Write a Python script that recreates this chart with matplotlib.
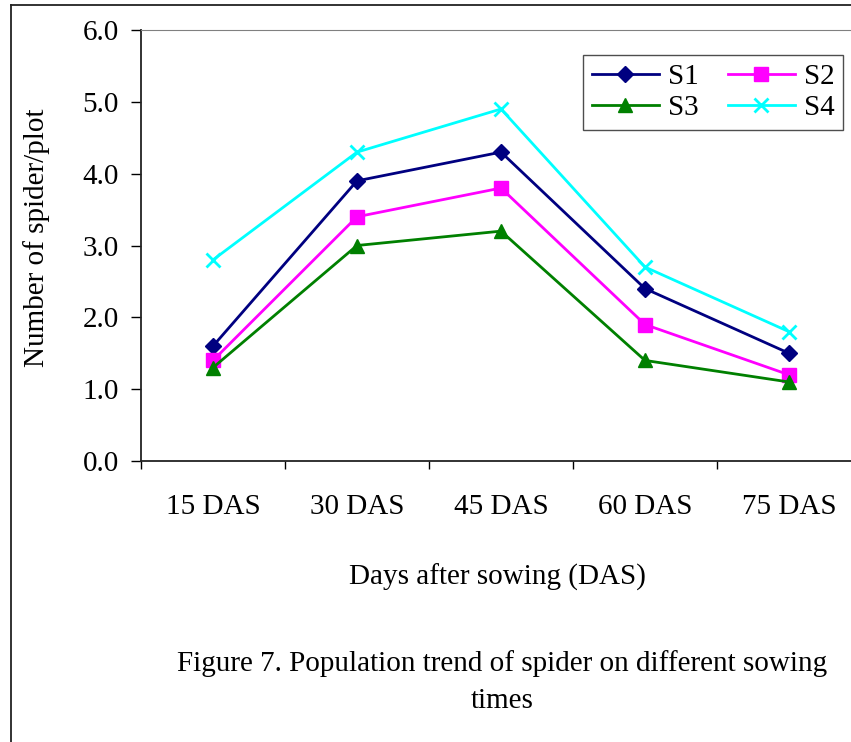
import matplotlib
matplotlib.use("Agg")
import matplotlib.pyplot as plt
from matplotlib.lines import Line2D

categories = ["15 DAS", "30 DAS", "45 DAS", "60 DAS", "75 DAS"]
s1 = [1.6, 3.9, 4.3, 2.4, 1.5]
s2 = [1.4, 3.4, 3.8, 1.9, 1.2]
s3 = [1.3, 3.0, 3.2, 1.4, 1.1]
s4 = [2.8, 4.3, 4.9, 2.7, 1.8]
yticks = [0.0, 1.0, 2.0, 3.0, 4.0, 5.0, 6.0]

plt.rcParams["font.family"] = ["Liberation Serif", "DejaVu Serif"]
FS = 21

W, H = 851, 742
fig = plt.figure(figsize=(W / 100, H / 100), dpi=100)

# page frame (left and top edges)
fig.add_artist(Line2D([11 / W, 11 / W], [0, 1 - 5 / H], transform=fig.transFigure,
                      color="#222222", lw=1.3))
fig.add_artist(Line2D([11 / W, 1], [1 - 5 / H, 1 - 5 / H], transform=fig.transFigure,
                      color="#222222", lw=1.3))

ax = fig.add_axes([141 / W, 1 - 461 / H, 720 / W, 431 / H])
x = list(range(len(categories)))

h1, = ax.plot(x, s1, color="#000080", marker="D", ms=8.5, lw=2, label="S1")
h2, = ax.plot(x, s2, color="#FF00FF", marker="s", ms=9.5, lw=2, label="S2")
h3, = ax.plot(x, s3, color="#008000", marker="^", ms=10.5, lw=2, label="S3")
h4, = ax.plot(x, s4, color="#00FFFF", marker="x", ms=10.5, mew=2, lw=2, label="S4")

ax.set_xlim(-0.5, len(categories) - 0.5)
ax.set_ylim(0, 6)
ax.set_yticks(yticks)
ax.set_yticklabels([f"{v:.1f}" for v in yticks], fontsize=FS)
ax.set_xticks(x)
ax.set_xticklabels(categories, fontsize=FS)
ax.set_xticks([i - 0.5 for i in range(len(categories) + 1)], minor=True)
ax.tick_params(axis="x", which="major", length=0, pad=24)
ax.tick_params(axis="x", which="minor", length=6, width=1, direction="out")
ax.tick_params(axis="y", which="major", length=7, width=1, pad=9)

ax.spines["top"].set_color("#808080")
ax.spines["right"].set_color("#808080")
for s in ("left", "bottom"):
    ax.spines[s].set_color("#222222")
    ax.spines[s].set_linewidth(1.3)

leg = ax.legend([h1, h3, h2, h4], ["S1", "S3", "S2", "S4"], ncol=2, loc="upper right",
                bbox_to_anchor=((843 - 141) / 720, (461 - 55) / 431), borderaxespad=0,
                fontsize=FS, frameon=True, fancybox=False, edgecolor="#222222",
                handlelength=2.3, columnspacing=1.0, handletextpad=0.3,
                labelspacing=0.15, borderpad=0.3)
leg.get_frame().set_linewidth(1.0)

fig.text(37 / W, 1 - 238 / H, "Number of spider/plot", rotation=90,
         ha="center", va="center", fontsize=FS)
fig.text(497 / W, 1 - 577 / H, "Days after sowing (DAS)", ha="center", va="center",
         fontsize=FS)
fig.text(502 / W, 1 - 682 / H, "Figure 7. Population trend of spider on different sowing\ntimes",
         ha="center", va="center", fontsize=FS, linespacing=1.55)

fig.savefig("out.png", dpi=100)
